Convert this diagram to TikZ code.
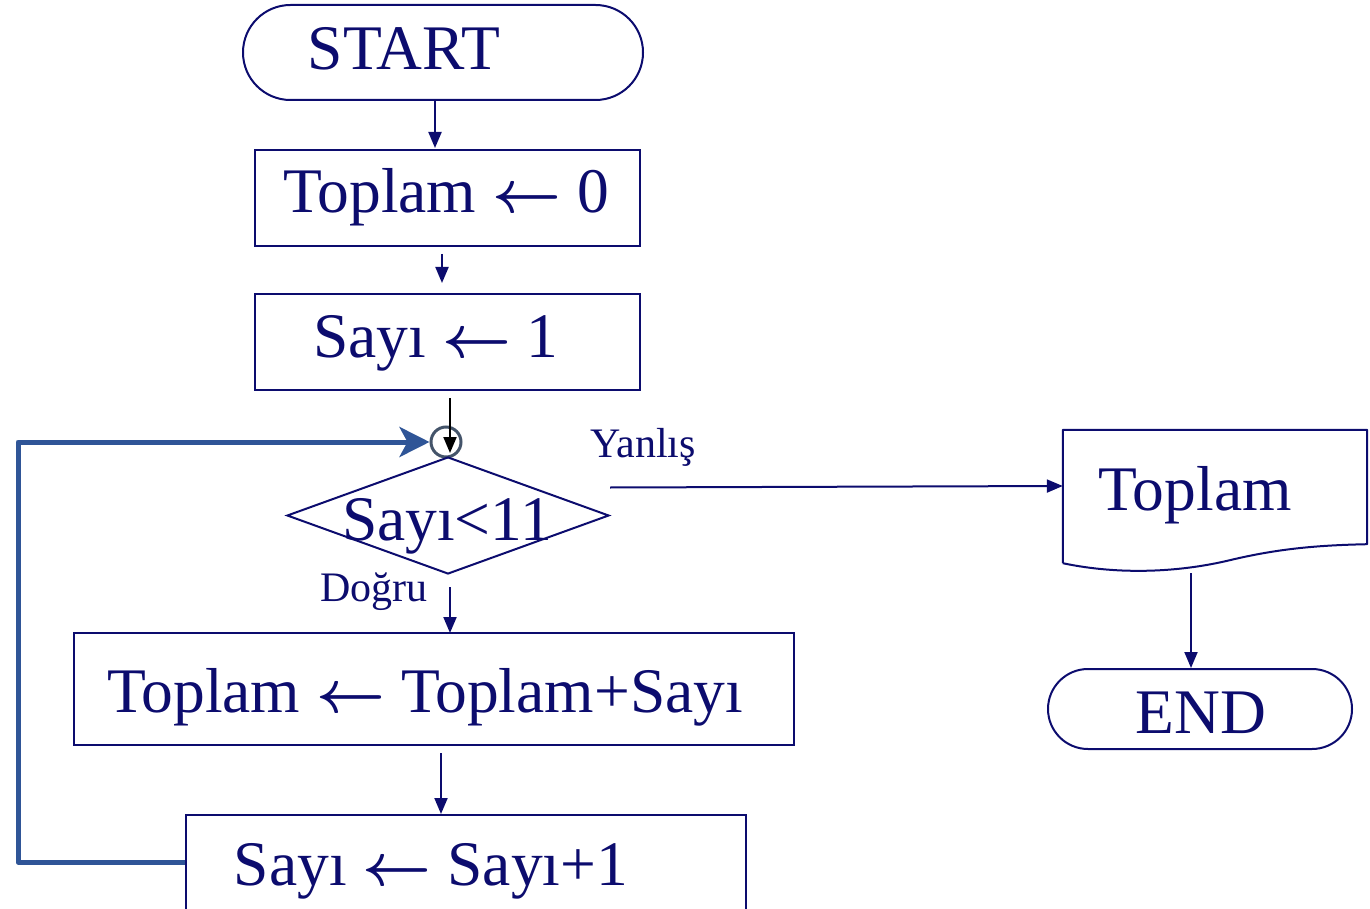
\documentclass[tikz,border=0pt]{standalone}
\usepackage{fontspec}
\setmainfont{Liberation Serif}
\usetikzlibrary{shapes.geometric,shapes.misc,arrows.meta,calc}
\definecolor{navy}{RGB}{12,12,110}
\definecolor{loopblue}{RGB}{47,85,151}
\definecolor{ringgray}{RGB}{68,84,106}
\newcommand{\larr}{\scalebox{6.0}{\normalsize\boldmath$\leftarrow$}}
\tikzset{
  box/.style={draw=navy, line width=2pt, inner sep=0pt, rectangle},
  term/.style={draw=navy, line width=2pt, inner sep=0pt, rounded rectangle},
  dec/.style={draw=navy, line width=2pt, inner sep=0pt, diamond},
  big/.style={text=navy, font=\fontsize{63.5}{72}\selectfont, inner sep=0pt, anchor=base},
  small/.style={text=navy, font=\fontsize{42}{48}\selectfont, inner sep=0pt, anchor=base},
  arr/.style={draw=navy, line width=2pt, -{Triangle[length=16pt,width=13pt]}},
  blackarr/.style={draw=black, line width=2pt, -{Triangle[length=16pt,width=13pt]}},
  loopline/.style={draw=loopblue, line width=5pt, line join=round, -{Stealth[length=30pt,width=30pt,inset=8pt]}},
  ringstyle/.style={draw=ringgray, line width=3pt, circle, inner sep=0pt, minimum size=30pt},
}
\begin{document}
\begin{tikzpicture}[x=1pt,y=-1pt]
\useasboundingbox (0,0) rectangle (1370,909);
\clip (0,0) rectangle (1370,909);
% shapes
\node[term, minimum width=400pt, minimum height=95pt] (start) at (443,52.5) {};
\node[box, minimum width=385pt, minimum height=96pt] (b1) at (447.5,198) {};
\node[box, minimum width=385pt, minimum height=96pt] (b2) at (447.5,342) {};
\node[ringstyle] (ring) at (446,442) {};
\node[dec, minimum width=322pt, minimum height=117pt] (dec) at (448,515.5) {};
\node[box, minimum width=720pt, minimum height=112pt] (b3) at (434,689) {};
\node[box, minimum width=560pt, minimum height=120pt] (b4) at (466,875) {};
\node[inner sep=0pt, minimum width=304pt, minimum height=133pt] (doc) at (1215,496.5) {};
\draw[navy, line width=2pt, line join=round]
  (doc.south west) -- (doc.north west) -- (doc.north east) -- ([yshift=19pt]doc.south east)
  .. controls +(-47,1) and +(50,-12) .. ($(doc.south west)+(167,-3)$)
  .. controls +(-50,12) and +(57,12) .. (doc.south west);
\node[term, minimum width=304pt, minimum height=80pt] (end) at (1200,709) {};
% texts
\node[big] (tstart) at (404,70) {START};
\node[big] (tb1) at (446,213) {Toplam \larr{} 0};
\node[big] (tb2) at (436,357) {Sayı \larr{} 1};
\node[big] (tdec) at (447,540) {Sayı<11};
\node[big] (tb3) at (425,712) {Toplam \larr{} Toplam+Sayı};
\node[big] (tb4) at (431,885) {Sayı \larr{} Sayı+1};
\node[big] (tdoc) at (1195,510) {Toplam};
\node[big] (tend) at (1201,733) {END};
\node[small] (yes) at (374,601) {Doğru};
\node[small] (no) at (643,457) {Yanlış};
% connectors
\draw[arr] ([xshift=-8pt]start.south) -- ([xshift=-12.5pt,yshift=1pt]b1.north);
\draw[arr] ([xshift=-5.5pt,yshift=-7pt]b1.south) -- ([xshift=-5.5pt,yshift=10pt]b2.north);
\draw[blackarr] ([xshift=2.5pt,yshift=-7pt]b2.south) -- ([xshift=4pt,yshift=-11pt]ring.center);
\draw[arr] ([xshift=2pt,yshift=-12pt]dec.south) -- ([xshift=16pt,yshift=-1pt]b3.north);
\draw[arr] ([xshift=7pt,yshift=-7pt]b3.south) -- ([xshift=-25pt]b4.north);
\draw[arr] ([yshift=28pt]dec.east) -- ([yshift=10.5pt]doc.west);
\draw[arr] ([xshift=-24pt,yshift=-10pt]doc.south) -- ([xshift=-9pt]end.north);
\draw[loopline] ([yshift=13pt]b4.west) -- ++(-167,0) |- (ring.west);
\end{tikzpicture}
\end{document}
